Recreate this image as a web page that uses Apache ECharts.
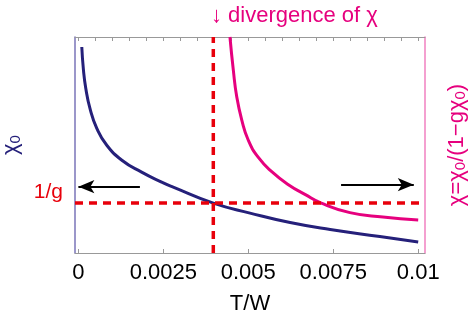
<!DOCTYPE html>
<html>
<head>
<meta charset="utf-8">
<script src="https://cdn.jsdelivr.net/npm/echarts@6/dist/echarts.min.js"></script>
<style>
html,body{margin:0;padding:0;background:#fff;}
#c{width:469px;height:322px;}
</style>
</head>
<body>
<div id="c"></div>
<script>
// x: T/W ; y: in units where 1/g = 1
var chi0T =   [0.0001, 0.000147, 0.000218, 0.000344, 0.000541, 0.000835, 0.00128, 0.00186, 0.00245, 0.00279, 0.00397, 0.00505, 0.00623, 0.00741, 0.00887, 0.01];
var chi0Val = [4.13,   3.68,     3.30,     2.89,     2.50,     2.16,     1.86,    1.62,    1.42,    1.32,    1.00,    0.80,    0.61,    0.47,    0.33,    0.22];

var chiT =   [0.00446, 0.00456, 0.00466, 0.00481, 0.00500, 0.00529, 0.00569, 0.00618, 0.00668, 0.00715, 0.00799, 0.00896, 0.01];
var chiVal = [4.33,    3.66,    3.13,    2.66,    2.26,    1.92,    1.63,    1.37,    1.17,    1.00,    0.81,    0.72,    0.66];

var xTicks = [0, 0.0025, 0.005, 0.0075, 0.01];
var xTickLabels = ['0', '0.0025', '0.005', '0.0075', '0.01'];
var topTicks = [0,0.0005,0.001,0.0015,0.002,0.0025,0.003,0.0035,0.004,0.0045,0.005,0.0055,0.006,0.0065,0.007,0.0075,0.008,0.0085,0.009,0.0095,0.01];
var xRange = [-0.0001, 0.0102];
var yRange = [0, 4.33];
var invG = 1;              // 1/g level
var tDiverge = 0.00397;    // divergence of chi
var arrowLeft = [[0.00181, 1.33], [0, 1.33]];
var arrowRight = [[0.00773, 1.37], [0.00987, 1.37]];

var FONT = 'Liberation Sans, Arial, sans-serif';
var BLUE = '#25207a';
var MAG = '#e6007e';
var RED = '#e8000b';

function pairs(xs, ys){ return xs.map(function(x,i){ return [x, ys[i]]; }); }
var dashStyle = {color: RED, width: 3.5, type: [8,6]};

var chart = echarts.init(document.getElementById('c'), null, {renderer:'canvas'});
chart.setOption({
  animation: false,
  textStyle: {fontFamily: FONT},
  title: {
    text: '↓ divergence of χ',
    left: 206, top: 0,
    textStyle: {color: MAG, fontSize: 22, fontWeight: 'normal', fontFamily: FONT}
  },
  grid: {left: 75, right: 44, top: 37, bottom: 69, containLabel: false, outerBoundsMode: 'none'},
  xAxis: [{
    type: 'value', min: xRange[0], max: xRange[1], position: 'bottom',
    name: 'T/W', nameLocation: 'middle', nameGap: 40,
    nameTextStyle: {color: '#000', fontSize: 22, fontFamily: FONT},
    axisLine: {show: true, onZero: false, lineStyle: {color: '#999', width: 1}},
    axisTick: {show: true, inside: true, length: 4, customValues: xTicks, lineStyle: {color: '#999'}},
    axisLabel: {customValues: xTicks, margin: 9, color: '#000', fontSize: 22, fontFamily: FONT,
      formatter: function(v){ var i = xTicks.indexOf(v); return i >= 0 ? xTickLabels[i] : ''; }},
    splitLine: {show: false}
  }, {
    type: 'value', min: xRange[0], max: xRange[1], position: 'top',
    axisLine: {show: true, onZero: false, lineStyle: {color: '#999', width: 1}},
    axisTick: {show: true, inside: true, length: 4, customValues: topTicks, lineStyle: {color: '#999'}},
    axisLabel: {show: false},
    splitLine: {show: false}
  }],
  yAxis: [{
    type: 'value', min: yRange[0], max: yRange[1], position: 'left',
    name: 'χ{s|0}', nameLocation: 'middle', nameGap: 50, nameRotate: 90,
    nameTextStyle: {color: BLUE, fontSize: 22, fontFamily: FONT,
      rich: {s: {fontSize: 15, color: BLUE, fontFamily: FONT, padding: [8,0,0,0]}}},
    axisLine: {show: true, onZero: false, lineStyle: {color: '#7a74b8', width: 1.5}},
    axisTick: {show: false},
    axisLabel: {customValues: [invG], color: RED, fontSize: 21, margin: 12, verticalAlign: 'bottom',
      formatter: function(){ return '1/g'; }},
    splitLine: {show: false}
  }, {
    type: 'value', min: yRange[0], max: yRange[1], position: 'right',
    name: 'χ=χ{s|0}/(1−gχ{s|0})', nameLocation: 'middle', nameGap: 20, nameRotate: 90,
    nameTextStyle: {color: MAG, fontSize: 22, fontFamily: FONT,
      rich: {s: {fontSize: 15, color: MAG, fontFamily: FONT, padding: [8,0,0,0]}}},
    axisLine: {show: true, onZero: false, lineStyle: {color: '#f080c0', width: 1.5}},
    axisTick: {show: false},
    axisLabel: {show: false},
    splitLine: {show: false}
  }],
  series: [{
    type: 'line', xAxisIndex: 0, yAxisIndex: 0,
    data: pairs(chi0T, chi0Val), smooth: 0.5, showSymbol: false,
    lineStyle: {color: BLUE, width: 3}, z: 2
  }, {
    type: 'line', xAxisIndex: 0, yAxisIndex: 1,
    data: pairs(chiT, chiVal), smooth: 0.5, showSymbol: false,
    lineStyle: {color: MAG, width: 3}, z: 2
  }, {
    type: 'line', xAxisIndex: 0, yAxisIndex: 0, z: 5, showSymbol: false, silent: true,
    data: [[tDiverge, yRange[0]], [tDiverge, yRange[1]]],
    lineStyle: dashStyle
  }, {
    type: 'line', xAxisIndex: 0, yAxisIndex: 0, z: 5, showSymbol: false, silent: true,
    data: [[xRange[0], invG], [xRange[1], invG]],
    lineStyle: dashStyle
  }, {
    type: 'line', xAxisIndex: 0, yAxisIndex: 0, z: 6, showSymbol: false, silent: true,
    data: [arrowLeft[0]],
    lineStyle: {opacity: 0},
    markLine: {
      silent: true, animation: false, symbol: ['none','arrow'], symbolSize: [10, 16],
      label: {show: false},
      lineStyle: {color: '#000', width: 2, type: 'solid'},
      data: [
        [{coord: arrowLeft[0]}, {coord: arrowLeft[1]}],
        [{coord: arrowRight[0]}, {coord: arrowRight[1]}]
      ]
    }
  }]
});
</script>
</body>
</html>
